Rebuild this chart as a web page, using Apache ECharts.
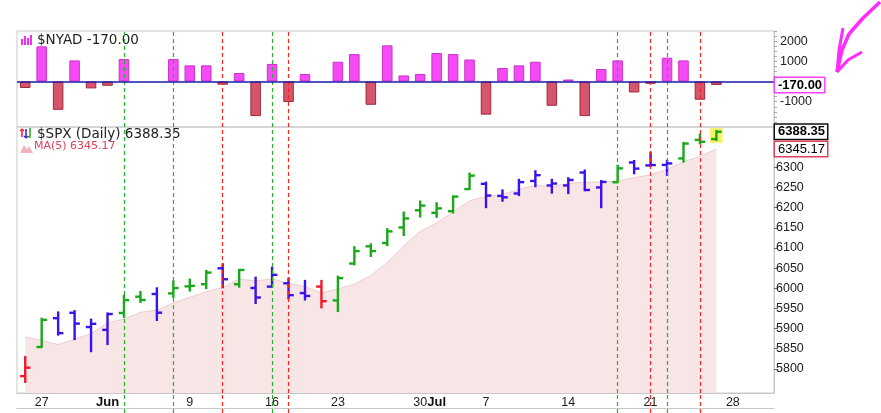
<!DOCTYPE html>
<html>
<head>
<meta charset="utf-8">
<script src="https://cdn.jsdelivr.net/npm/echarts@6/dist/echarts.min.js"></script>
<style>
  html, body { margin: 0; padding: 0; background: #fff; }
  #chart { width: 881px; height: 413px; }
</style>
</head>
<body>
<div id="chart"></div>
<script>
// trading days shown, then the empty days at the right edge
const tradingDays = [
  '2025-05-23', '2025-05-27', '2025-05-28', '2025-05-29', '2025-05-30',
  '2025-06-02', '2025-06-03', '2025-06-04', '2025-06-05', '2025-06-06',
  '2025-06-09', '2025-06-10', '2025-06-11', '2025-06-12', '2025-06-13',
  '2025-06-16', '2025-06-17', '2025-06-18', '2025-06-20',
  '2025-06-23', '2025-06-24', '2025-06-25', '2025-06-26', '2025-06-27',
  '2025-06-30', '2025-07-01', '2025-07-02', '2025-07-03',
  '2025-07-07', '2025-07-08', '2025-07-09', '2025-07-10', '2025-07-11',
  '2025-07-14', '2025-07-15', '2025-07-16', '2025-07-17', '2025-07-18',
  '2025-07-21', '2025-07-22', '2025-07-23', '2025-07-24', '2025-07-25'
]
const futureDays = ['2025-07-28', '2025-07-29', '2025-07-30']

const labelDays = ['2025-05-27', '2025-06-02', '2025-06-09', '2025-06-16', '2025-06-23',
  '2025-06-30', '2025-07-01', '2025-07-07', '2025-07-14', '2025-07-21', '2025-07-28']
const labelTexts = ['27', 'Jun', '9', '16', '23', '30', 'Jul', '7', '14', '21', '28']

// $NYAD daily net advances
const nyad = [
  -320, 1740, -1400, 1045, -340, -210, 1110, null, null, 1110,
  800, 800, -160, 420, -1710, 870, -1010, 370, null,
  980, 1360, -1150, 1790, 300, 370, 1410, 1360, 1090,
  -1640, 670, 800, 980, -1200, 100, -1710, 620, 1045, -540,
  -110, 1180, 1045, -900, -170
]

// $SPX OHLC
const opens = [
  5781.89, 5854.07, 5925.54, 5939.0, 5903.67, 5896.68, 5938.56, 5978.94, 5985.67, 5987.06,
  6004.60, 6009.91, 6049.38, 6009.90, 6000.56, 6004.00, 6012.15, 5987.93, 6004.07,
  5969.67, 6061.21, 6104.0, 6112.0, 6150.70, 6193.36, 6187.0, 6191.0, 6246.0,
  6259.0, 6229.0, 6235.0, 6266.0, 6255.0, 6255.0, 6287.0, 6250.0, 6263.0, 6312.0,
  6304.74, 6306.0, 6322.0, 6368.0, 6370.0
]
const highs = [
  5829.51, 5924.33, 5939.92, 5943.13, 5922.14, 5937.40, 5981.35, 5990.48, 5999.70, 6016.87,
  6021.31, 6043.01, 6059.40, 6045.43, 6026.16, 6050.83, 6023.25, 6018.25, 6018.20,
  6028.81, 6101.80, 6108.5, 6146.5, 6187.68, 6215.08, 6210.78, 6227.60, 6284.65,
  6262.0, 6242.7, 6269.0, 6290.22, 6269.0, 6273.0, 6292.0, 6266.0, 6304.0, 6315.6,
  6336.08, 6316.0, 6360.6, 6381.3, 6390.0
]
const lows = [
  5767.41, 5854.07, 5884.97, 5873.80, 5843.66, 5861.43, 5929.0, 5966.11, 5921.20, 5978.63,
  5994.18, 6000.26, 6002.32, 6003.88, 5963.21, 6004.00, 5974.80, 5971.89, 5952.56,
  5943.23, 6059.0, 6080.0, 6107.0, 6132.0, 6177.97, 6177.0, 6188.0, 6246.0,
  6201.0, 6217.0, 6231.0, 6253.0, 6237.0, 6236.0, 6243.0, 6201.0, 6263.0, 6285.0,
  6303.0, 6281.0, 6314.0, 6360.0, 6368.0
]
const closes = [
  5802.82, 5921.54, 5888.55, 5912.17, 5911.69, 5935.94, 5970.37, 5970.81, 5939.30, 6000.36,
  6005.88, 6038.81, 6022.24, 6045.26, 5976.97, 6033.11, 5982.72, 5980.87, 5967.84,
  6025.17, 6092.18, 6092.16, 6141.02, 6173.07, 6204.95, 6198.01, 6227.42, 6279.35,
  6229.98, 6225.52, 6263.26, 6280.46, 6259.75, 6268.56, 6243.76, 6263.70, 6297.36, 6296.79,
  6305.60, 6309.62, 6358.91, 6363.35, 6388.35
]
// closes before the first bar, needed for MA(5)
const priorCloses = [5963.60, 5940.46, 5844.61, 5842.01]

// bar colouring as shown (u = green, n = blue, d = red)
const impulse = [
  'd', 'u', 'n', 'n', 'n', 'n', 'u', 'u', 'n', 'u',
  'u', 'u', 'n', 'u', 'n', 'n', 'n', 'n', 'd',
  'u', 'u', 'u', 'u', 'u', 'u', 'u', 'u', 'u',
  'n', 'n', 'n', 'n', 'n', 'n', 'n', 'n', 'u', 'n',
  'n', 'n', 'u', 'u', 'u'
]

const greenLines = ['2025-06-03', '2025-06-06', '2025-06-16', '2025-07-17', '2025-07-22']
const redLines = ['2025-06-11', '2025-06-17', '2025-07-21', '2025-07-24']

const nyadLabels = [2000, 1000, -1000]
const nyadTicks = []
for (let v = -2250; v <= 2500; v += 250) nyadTicks.push(v)
const spxLabels = [5800, 5850, 5900, 5950, 6000, 6050, 6100, 6150, 6200, 6250, 6300]

const barColors = { u: '#1aa81a', n: '#3a12ec', d: '#f01a2a' }
const GREEN_DASH = '#2bb02b'
const RED_DASH = '#ff2020'
const AXIS_FONT = '"Liberation Sans", Arial, sans-serif'
const CLEAR = 'rgba(0,0,0,0)'

const categories = tradingDays.concat(futureDays)
const labelMap = {}
labelDays.forEach((d, i) => { labelMap[d] = labelTexts[i] })

const allCloses = priorCloses.concat(closes)
const ma = closes.map((c, i) => {
  let win = allCloses.slice(i, i + 5)
  return +(win.reduce((a, b) => a + b, 0) / 5).toFixed(2)
})

const lastNyad = nyad[nyad.length - 1]
const lastClose = closes[closes.length - 1]
const lastMa = ma[ma.length - 1]

const ohlc = tradingDays.map((d, i) => [i, opens[i], highs[i], lows[i], closes[i]])

function renderBar(params, api) {
  let i = api.value(0)
  let hi = api.coord([i, api.value(2)])
  let lo = api.coord([i, api.value(3)])
  let op = api.coord([i, api.value(1)])
  let cl = api.coord([i, api.value(4)])
  let half = api.size([1, 0])[0] * 0.32
  let style = { stroke: barColors[impulse[i]], lineWidth: 2.4 }
  let children = []
  if (i === closes.length - 1) {
    children.push({
      type: 'rect',
      shape: { x: hi[0] - half - 1, y: hi[1] - 3, width: half * 2 + 2, height: lo[1] - hi[1] + 6 },
      style: { fill: '#f4f46a' }
    })
  }
  children.push(
    { type: 'line', shape: { x1: hi[0], y1: hi[1] - 1, x2: lo[0], y2: lo[1] + 1 }, style },
    { type: 'line', shape: { x1: op[0] - half, y1: op[1], x2: op[0], y2: op[1] }, style },
    { type: 'line', shape: { x1: cl[0], y1: cl[1], x2: cl[0] + half, y2: cl[1] }, style }
  )
  return { type: 'group', children }
}

function vLines() {
  return greenLines.map(d => ({ xAxis: d, lineStyle: { color: GREEN_DASH } }))
    .concat(redLines.map(d => ({ xAxis: d, lineStyle: { color: RED_DASH } })))
}

function tag(border, bold, text) {
  return {
    show: true,
    position: 'end',
    distance: 1,
    formatter: text,
    backgroundColor: '#fff',
    borderColor: border,
    borderWidth: 1.5,
    padding: [1, 2, 0, 3],
    color: '#000',
    fontFamily: AXIS_FONT,
    fontSize: 13,
    fontWeight: bold ? 'bold' : 'normal'
  }
}

const dashMarks = extra => ({
  silent: true,
  symbol: 'none',
  label: { show: false },
  lineStyle: { type: [4, 3], width: 1.2 },
  data: vLines().concat(extra)
})

const chart = echarts.init(document.getElementById('chart'))

chart.setOption({
  animation: false,
  backgroundColor: '#fff',
  grid: [
    { left: 17, right: 107, top: 31, height: 96, show: true, borderColor: '#c8c8c8', borderWidth: 1 },
    { left: 17, right: 107, top: 127, height: 266, show: true, borderColor: '#c8c8c8', borderWidth: 1 },
    { left: 17, right: 107, top: 393, height: 20 }
  ],
  xAxis: [
    { type: 'category', gridIndex: 0, data: categories, show: false },
    {
      type: 'category', gridIndex: 1, data: categories,
      axisLine: { lineStyle: { color: '#c8c8c8' } },
      axisTick: { show: false },
      axisLabel: {
        interval: (idx, val) => labelMap[val] !== undefined,
        formatter: val => {
          let t = labelMap[val]
          if (!t) return ''
          return isNaN(t) ? '{b|' + t + '}' : t
        },
        color: '#222', fontFamily: AXIS_FONT, fontSize: 12.5, margin: 3,
        rich: { b: { fontWeight: 'bold', fontSize: 13, color: '#111', fontFamily: AXIS_FONT } }
      }
    },
    {
      type: 'category', gridIndex: 1, data: categories, position: 'bottom', offset: 15,
      axisLine: { lineStyle: { color: '#c8c8c8' } },
      axisTick: { inside: true, length: 3, interval: 0, alignWithLabel: true, lineStyle: { color: '#bbb' } },
      axisLabel: { show: false }
    },
    { type: 'category', gridIndex: 2, data: categories, show: false }
  ],
  yAxis: [
    {
      type: 'value', gridIndex: 0, position: 'right', min: -2250, max: 2500,
      splitLine: { show: false },
      axisLine: { show: true, lineStyle: { color: '#c8c8c8' } },
      axisTick: { show: true, length: 3, customValues: nyadTicks, lineStyle: { color: '#aaa' } },
      axisLabel: {
        customValues: nyadLabels, formatter: v => String(v),
        color: '#222', fontFamily: AXIS_FONT, fontSize: 12.5, margin: 6
      }
    },
    {
      type: 'value', gridIndex: 1, position: 'right', min: 5740, max: 6400,
      splitLine: { show: false },
      axisLine: { show: true, lineStyle: { color: '#c8c8c8' } },
      axisTick: { show: true, length: 4, customValues: spxLabels, lineStyle: { color: '#666' } },
      axisLabel: {
        customValues: spxLabels, formatter: v => String(v),
        color: '#222', fontFamily: AXIS_FONT, fontSize: 12.5, margin: 2
      }
    },
    { type: 'value', gridIndex: 2, min: 0, max: 1, show: false }
  ],
  series: [
    {
      name: '$NYAD',
      type: 'bar',
      xAxisIndex: 0,
      yAxisIndex: 0,
      barWidth: '64%',
      data: nyad.map(v => v === null ? null : {
        value: v,
        itemStyle: v >= 0
          ? { color: '#f74af7', borderColor: '#c832c8', borderWidth: 1 }
          : { color: '#d5566c', borderColor: '#a0283c', borderWidth: 1 }
      }),
      markLine: dashMarks([
        { yAxis: 0, lineStyle: { color: '#1a1aa8', width: 1.6, type: 'solid' } },
        {
          yAxis: lastNyad, lineStyle: { color: CLEAR, width: 0 },
          label: tag('#ff40ff', true, lastNyad.toFixed(2))
        }
      ])
    },
    {
      name: 'MA(5)',
      type: 'line',
      xAxisIndex: 1,
      yAxisIndex: 1,
      data: ma,
      showSymbol: false,
      lineStyle: { color: '#f0cccd', width: 1 },
      areaStyle: { color: '#f8e6e6', opacity: 1, origin: 'start' },
      z: 1,
      markLine: dashMarks([
        {
          yAxis: lastClose, lineStyle: { color: CLEAR, width: 0 },
          label: tag('#111', true, lastClose.toFixed(2))
        },
        {
          yAxis: lastMa, lineStyle: { color: CLEAR, width: 0 },
          label: tag('#e0405a', false, lastMa.toFixed(2))
        }
      ])
    },
    {
      name: '$SPX',
      type: 'custom',
      xAxisIndex: 1,
      yAxisIndex: 1,
      data: ohlc,
      encode: { x: 0, y: [1, 2, 3, 4] },
      renderItem: renderBar,
      z: 3
    },
    {
      // carries the signal lines down through the date strip
      name: 'dates',
      type: 'line',
      xAxisIndex: 3,
      yAxisIndex: 2,
      data: [],
      markLine: dashMarks([])
    }
  ],
  graphic: [
    // legend icons
    { type: 'rect', shape: { x: 21, y: 39, width: 2, height: 6 }, style: { fill: '#f02cf0' } },
    { type: 'rect', shape: { x: 24, y: 36, width: 2, height: 9 }, style: { fill: '#f02cf0' } },
    { type: 'rect', shape: { x: 27, y: 38, width: 2, height: 7 }, style: { fill: '#f02cf0' } },
    { type: 'rect', shape: { x: 30, y: 35, width: 2, height: 10 }, style: { fill: '#f02cf0' } },
    { type: 'text', left: 37, top: 33, style: { text: '$NYAD ' + lastNyad.toFixed(2), font: '13.5px "DejaVu Sans"', fill: '#222' } },

    { type: 'polyline', shape: { points: [[22, 129], [22, 137]] }, style: { stroke: '#f01a2a', lineWidth: 1.5 } },
    { type: 'polyline', shape: { points: [[20, 131], [22, 129], [24, 131]] }, style: { stroke: '#f01a2a', lineWidth: 1.2, fill: null } },
    { type: 'polyline', shape: { points: [[26, 129], [26, 138]] }, style: { stroke: '#3a12ec', lineWidth: 1.5 } },
    { type: 'polyline', shape: { points: [[24, 136], [26, 138], [28, 136]] }, style: { stroke: '#3a12ec', lineWidth: 1.2, fill: null } },
    { type: 'polyline', shape: { points: [[30, 128], [30, 137], [28, 137]] }, style: { stroke: '#1aa81a', lineWidth: 1.5, fill: null } },
    { type: 'text', left: 37, top: 127, style: { text: '$SPX (Daily) ' + lastClose.toFixed(2), font: '13.5px "DejaVu Sans"', fill: '#222' } },

    { type: 'polygon', shape: { points: [[20, 153], [24, 145], [27, 149], [29, 146], [33, 153]] }, style: { fill: '#f0b4bc' } },
    { type: 'text', left: 34, top: 141, style: { text: 'MA(5) ' + lastMa.toFixed(2), font: '11px "DejaVu Sans"', fill: '#e0405a' } },

    // hand-drawn arrow
    { type: 'polyline', shape: { points: [[880, 2], [863, 18], [849, 34], [842, 50], [837, 72]] }, style: { stroke: '#ff2bff', lineWidth: 3.5, fill: null, lineJoin: 'round' } },
    { type: 'polyline', shape: { points: [[843, 28], [839, 50], [837, 72]] }, style: { stroke: '#ff2bff', lineWidth: 3, fill: null } },
    { type: 'polyline', shape: { points: [[837, 72], [848, 60], [862, 52]] }, style: { stroke: '#ff2bff', lineWidth: 3, fill: null } }
  ]
})
</script>
</body>
</html>
